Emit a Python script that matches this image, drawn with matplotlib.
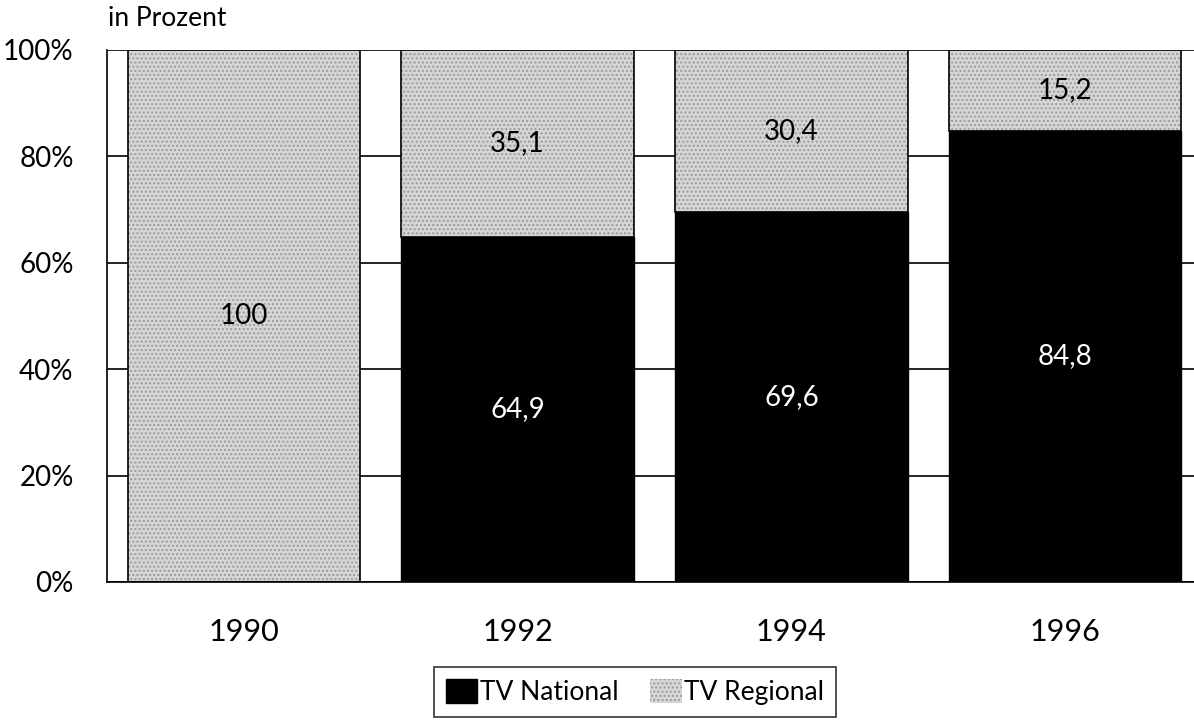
import matplotlib.pyplot as plt
import numpy as np

plt.rcParams['font.family'] = ['Lato', 'DejaVu Sans']

years = ['1990', '1992', '1994', '1996']
tv_national = [0.0, 64.9, 69.6, 84.8]
tv_regional = [100.0, 35.1, 30.4, 15.2]
national_labels = ['', '64,9', '69,6', '84,8']
regional_labels = ['100', '35,1', '30,4', '15,2']

fig = plt.figure(figsize=(11.94, 7.21), dpi=100)
ax = fig.add_axes([107/1194, 1 - 582/721, 1095/1194, 532/721])

x = np.arange(len(years))
width = 0.85

# gridlines behind bars
ax.set_axisbelow(True)
ax.yaxis.grid(True, color='black', linewidth=1.2)

nat = ax.bar(x, tv_national, width, color='black', edgecolor='black',
             linewidth=1, label='TV National')
reg = ax.bar(x, tv_regional, width, bottom=tv_national, color='#d6d6d6',
             edgecolor='#9a9a9a', linewidth=0, hatch='....', label='TV Regional')
# outline of regional part
ax.bar(x, tv_regional, width, bottom=tv_national, fill=False,
       edgecolor='black', linewidth=1.2)

for i in range(len(years)):
    if tv_national[i] > 0:
        ax.text(x[i], tv_national[i] / 2, national_labels[i], color='white',
                ha='center', va='center', fontsize=20)
    ax.text(x[i], tv_national[i] + tv_regional[i] / 2, regional_labels[i],
            color='black', ha='center', va='center', fontsize=20)

ax.set_xlim(-0.5, 3.5)
ax.set_ylim(0, 100)
ax.set_yticks([0, 20, 40, 60, 80, 100])
ax.set_yticklabels(['0%', '20%', '40%', '60%', '80%', '100%'], fontsize=20)
ax.set_xticks(x)
ax.set_xticklabels(years, fontsize=22)
ax.tick_params(axis='x', length=0, pad=26)
ax.tick_params(axis='y', length=0, pad=24)

ax.spines['top'].set_visible(False)
ax.spines['right'].set_visible(False)
ax.spines['left'].set_linewidth(1.2)
ax.spines['bottom'].set_linewidth(1.2)

fig.text(108/1194, 1 - 18/721, 'in Prozent', fontsize=19, ha='left', va='center')

leg = fig.legend(handles=[nat, reg], loc='center', bbox_to_anchor=(635/1194, 1 - 692/721),
                 ncol=2, fontsize=19, frameon=True, fancybox=False,
                 edgecolor='black', handlelength=1.2, handleheight=1.0,
                 handletextpad=0.1, columnspacing=1.2, borderpad=0.45,
                 borderaxespad=0)
leg.get_frame().set_linewidth(1.2)

fig.savefig('out.png', dpi=100)
